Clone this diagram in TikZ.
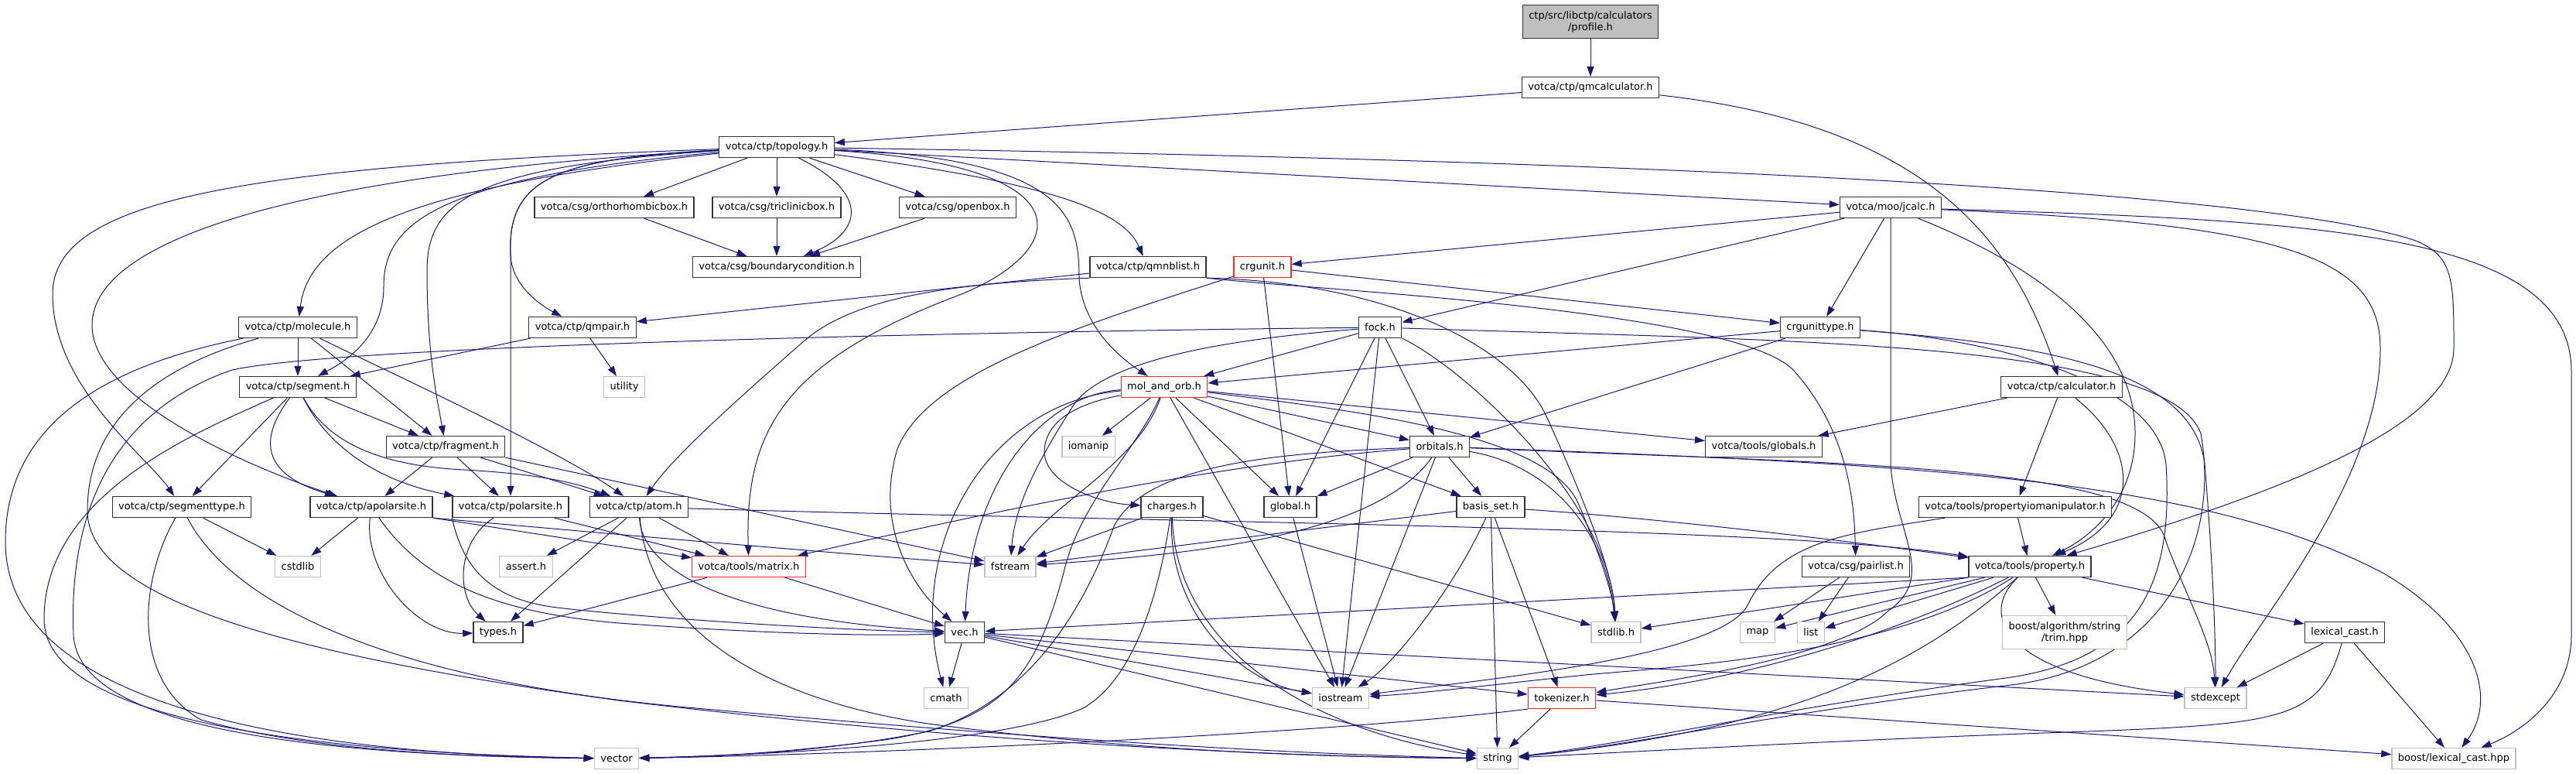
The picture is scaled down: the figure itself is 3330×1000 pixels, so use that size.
\documentclass[tikz,border=0pt]{standalone}
\usepackage{fontspec}
\setmainfont{DejaVu Sans}
\usetikzlibrary{arrows.meta}
\definecolor{depblue}{HTML}{191970}
\definecolor{extgray}{HTML}{BFBFBF}
\pgfdeclarelayer{bg}
\pgfsetlayers{bg,main}

\begin{document}
\begin{tikzpicture}[x=1pt, y=-1pt,
	inc/.style={draw=black!80, line width=1.3pt, fill=white, minimum height=27pt, inner xsep=8pt, inner ysep=0pt, font=\fontsize{13}{15}\selectfont},
	sys/.style={inc, draw=extgray},
	cut/.style={inc, draw=red!85},
	root/.style={inc, fill=extgray, align=center, minimum height=43pt},
	dep/.style={draw=depblue, line width=1pt, -{Triangle[length=13pt, width=9pt]}}]
	\useasboundingbox (0, 0) rectangle (3330, 1000);
	% rows of the graph
	\node [root] (profile) at (2056, 28) {ctp/src/libctp/calculators\\/profile.h};
	\node [inc] (qmcalc) at (2056, 113) {votca/ctp/qmcalculator.h};
	\node [inc] (topology) at (1004, 190) {votca/ctp/topology.h};
	\node [inc] (orthobox) at (794, 268) {votca/csg/orthorhombicbox.h};
	\node [inc] (triclbox) at (1004, 268) {votca/csg/triclinicbox.h};
	\node [inc] (openbox) at (1238, 268) {votca/csg/openbox.h};
	\node [inc] (jcalc) at (2444, 268) {votca/moo/jcalc.h};
	\node [inc] (bcond) at (1004, 345) {votca/csg/boundarycondition.h};
	\node [inc] (qmnblist) at (1484, 345) {votca/ctp/qmnblist.h};
	\node [cut] (crgunit) at (1632, 345) {crgunit.h};
	\node [inc] (molecule) at (385, 423) {votca/ctp/molecule.h};
	\node [inc] (qmpair) at (753, 423) {votca/ctp/qmpair.h};
	\node [inc] (fock) at (1784, 423) {fock.h};
	\node [inc] (crgunittype) at (2353, 423) {crgunittype.h};
	\node [inc] (segment) at (385, 500) {votca/ctp/segment.h};
	\node [sys] (utility) at (807, 500) {utility};
	\node [cut] (molorb) at (1505, 500) {mol\_and\_orb.h};
	\node [inc] (calculator) at (2665, 500) {votca/ctp/calculator.h};
	\node [inc] (fragment) at (576, 577) {votca/ctp/fragment.h};
	\node [sys] (iomanip) at (1407, 577) {iomanip};
	\node [inc] (orbitals) at (1861, 577) {orbitals.h};
	\node [inc] (globals) at (2280, 577) {votca/tools/globals.h};
	\node [inc] (segtype) at (235, 655) {votca/ctp/segmenttype.h};
	\node [inc] (apolar) at (480, 655) {votca/ctp/apolarsite.h};
	\node [inc] (polar) at (660, 655) {votca/ctp/polarsite.h};
	\node [inc] (atom) at (826, 655) {votca/ctp/atom.h};
	\node [inc] (charges) at (1515, 655) {charges.h};
	\node [inc] (global) at (1668, 655) {global.h};
	\node [inc] (basisset) at (1927, 655) {basis\_set.h};
	\node [inc] (propio) at (2605, 655) {votca/tools/propertyiomanipulator.h};
	\node [sys] (cstdlib) at (385, 732) {cstdlib};
	\node [sys] (assert) at (680, 732) {assert.h};
	\node [cut] (matrix) at (968, 732) {votca/tools/matrix.h};
	\node [sys] (fstream) at (1306, 732) {fstream};
	\node [inc] (pairlist) at (2399, 732) {votca/csg/pairlist.h};
	\node [inc] (property) at (2624, 732) {votca/tools/property.h};
	\node [inc] (types) at (644, 817) {types.h};
	\node [inc] (vec) at (1247, 817) {vec.h};
	\node [sys] (stdlib) at (2089, 817) {stdlib.h};
	\node [sys] (map) at (2272, 817) {map};
	\node [sys] (list) at (2341, 817) {list};
	\node [sys, align=center, minimum height=43pt] (trim) at (2669, 817) {boost/algorithm/string\\/trim.hpp};
	\node [inc] (lexcasth) at (3031, 817) {lexical\_cast.h};
	\node [sys] (cmath) at (1223, 902) {cmath};
	\node [sys] (iostream) at (1733, 902) {iostream};
	\node [cut] (tokenizer) at (2019, 902) {tokenizer.h};
	\node [sys] (stdexcept) at (2864, 902) {stdexcept};
	\node [sys] (vector) at (797, 980) {vector};
	\node [sys] (string) at (1936, 980) {string};
	\node [sys] (lexcasthpp) at (3172, 980) {boost/lexical\_cast.hpp};

	\begin{pgfonlayer}{bg}
	% root and calculators
	\draw [dep] (profile) -- (qmcalc);
	\draw [dep] (qmcalc) -- (topology);
	\draw [dep] (qmcalc) .. controls (2480, 160) and (2600, 300) .. (calculator);
	% topology
	\draw [dep] (topology) -- (orthobox);
	\draw [dep] (topology) -- (triclbox);
	\draw [dep] (topology) -- (openbox);
	\draw [dep] (topology) .. controls (1125, 250) and (1115, 300) .. (bcond);
	\draw [dep] (orthobox) -- (bcond);
	\draw [dep] (triclbox) -- (bcond);
	\draw [dep] (openbox) -- (bcond);
	\draw [dep] (topology) .. controls (1390, 240) and (1455, 280) .. (qmnblist);
	\draw [dep] (topology) -- (jcalc);
	\draw [dep] (topology) .. controls (540, 240) and (400, 300) .. (molecule);
	\draw [dep] (topology) .. controls (720, 205) and (655, 230) .. (660, 330) .. controls (662, 370) and (700, 395) .. (qmpair);
	\draw [dep] (topology) .. controls (720, 205) and (655, 230) .. (660, 330) -- (polar);
	\draw [dep] (topology) .. controls (560, 230) and (496, 290) .. (496, 370) .. controls (496, 440) and (440, 470) .. (segment);
	\draw [dep] (topology) .. controls (610, 215) and (552, 260) .. (552, 350) .. controls (552, 460) and (566, 520) .. (fragment);
	\draw [dep] (topology) .. controls (300, 215) and (68, 260) .. (68, 380) .. controls (68, 500) and (190, 590) .. (segtype);
	\draw [dep] (topology) .. controls (380, 225) and (119, 310) .. (119, 420) .. controls (119, 520) and (340, 610) .. (apolar);
	\draw [dep] (topology) .. controls (1420, 215) and (1380, 330) .. (1230, 385) .. controls (1010, 470) and (963, 560) .. (matrix);
	\draw [dep] (topology) .. controls (1380, 205) and (1395, 280) .. (1395, 360) .. controls (1400, 430) and (1460, 470) .. (molorb);
	\draw [dep] (topology) .. controls (2000, 205) and (2900, 240) .. (3120, 310) .. controls (3172, 330) and (3172, 360) .. (3172, 450) .. controls (3172, 560) and (2900, 650) .. (property);
	% molecule, segment, qmpair
	\draw [dep] (molecule) -- (segment);
	\draw [dep] (molecule) -- (fragment);
	\draw [dep] (molecule) .. controls (480, 470) and (720, 580) .. (atom);
	\draw [dep] (molecule) .. controls (150, 470) and (7, 540) .. (7, 700) .. controls (7, 930) and (450, 975) .. (vector);
	\draw [dep] (molecule) .. controls (180, 480) and (113, 560) .. (113, 660) .. controls (113, 780) and (400, 850) .. (800, 905) .. controls (1300, 965) and (1700, 978) .. (string);
	\draw [dep] (segment) -- (fragment);
	\draw [dep] (segment) -- (segtype);
	\draw [dep] (segment) .. controls (340, 560) and (330, 610) .. (apolar);
	\draw [dep] (segment) .. controls (420, 570) and (480, 620) .. (polar);
	\draw [dep] (segment) .. controls (430, 585) and (520, 603) .. (600, 607) .. controls (690, 612) and (740, 622) .. (atom);
	\draw [dep] (segment) .. controls (250, 560) and (57, 640) .. (57, 800) .. controls (57, 930) and (400, 972) .. (vector);
	\draw [dep] (qmpair) -- (segment);
	\draw [dep] (qmpair) -- (utility);
	% qmnblist, crgunit, jcalc
	\draw [dep] (qmnblist) -- (qmpair);
	\draw [dep] (qmnblist.south west) .. controls (1250, 365) and (1110, 380) .. (1040, 440) .. controls (960, 510) and (870, 590) .. (atom);
	\draw [dep] (qmnblist.south east) .. controls (1700, 375) and (2250, 400) .. (2320, 480) .. controls (2390, 560) and (2397, 650) .. (pairlist);
	\draw [dep] (qmnblist.south east) .. controls (1800, 365) and (1960, 450) .. (2000, 540) .. controls (2050, 650) and (2085, 740) .. (stdlib);
	\draw [dep] (crgunit) -- (crgunittype);
	\draw [dep] (crgunit) -- (global);
	\draw [dep] (crgunit) .. controls (1400, 420) and (1200, 480) .. (1160, 580) .. controls (1130, 680) and (1180, 760) .. (vec);
	\draw [dep] (jcalc) -- (crgunit);
	\draw [dep] (jcalc) -- (crgunittype);
	\draw [dep] (jcalc) -- (fock);
	\draw [dep] (jcalc) -- (2444, 600) .. controls (2450, 690) and (2505, 745) .. (2440, 790) .. controls (2380, 850) and (2150, 880) .. (tokenizer);
	\draw [dep] (jcalc) .. controls (2600, 330) and (2760, 420) .. (2760, 560) .. controls (2760, 640) and (2710, 690) .. (property);
	\draw [dep] (jcalc) .. controls (2950, 290) and (3077, 330) .. (3077, 450) .. controls (3077, 620) and (2920, 800) .. (stdexcept);
	\draw [dep] (jcalc) .. controls (3000, 285) and (3324, 300) .. (3324, 480) -- (3324, 820) .. controls (3324, 900) and (3260, 945) .. (lexcasthpp);
	% fock, crgunittype, calculator
	\draw [dep] (fock) -- (molorb);
	\draw [dep] (fock) -- (orbitals);
	\draw [dep] (fock) -- (global);
	\draw [dep] (fock) -- (iostream);
	\draw [dep] (fock) .. controls (1900, 480) and (2080, 650) .. (stdlib);
	\draw [dep] (fock) .. controls (1560, 440) and (1430, 470) .. (1390, 520) .. controls (1345, 590) and (1312, 650) .. (fstream);
	\draw [dep] (fock) .. controls (1300, 428) and (450, 445) .. (300, 478) .. controls (120, 540) and (90, 700) .. (95, 820) .. controls (100, 940) and (400, 976) .. (vector);
	\draw [dep] (fock) .. controls (2300, 440) and (2800, 440) .. (2845, 560) .. controls (2870, 700) and (2800, 860) .. (2600, 885) .. controls (2300, 920) and (2100, 965) .. (string);
	\draw [dep] (crgunittype) -- (molorb);
	\draw [dep] (crgunittype) -- (orbitals);
	\draw [dep] (crgunittype) .. controls (2650, 445) and (2836, 480) .. (2850, 600) .. controls (2860, 720) and (2864, 820) .. (stdexcept);
	\draw [dep] (crgunittype) .. controls (2600, 440) and (2790, 500) .. (2800, 600) .. controls (2810, 760) and (2760, 850) .. (2600, 875) .. controls (2300, 915) and (2100, 962) .. (string);
	\draw [dep] (calculator) -- (globals);
	\draw [dep] (calculator) -- (propio);
	\draw [dep] (calculator) .. controls (2765, 580) and (2770, 670) .. (property);
	% mol_and_orb
	\draw [dep] (molorb) -- (iomanip);
	\draw [dep] (molorb) .. controls (1400, 520) and (1350, 540) .. (1350, 585) .. controls (1352, 625) and (1420, 650) .. (charges);
	\draw [dep] (molorb) -- (global);
	\draw [dep] (molorb) -- (orbitals);
	\draw [dep] (molorb) -- (basisset);
	\draw [dep] (molorb) -- (globals);
	\draw [dep] (molorb) .. controls (1470, 600) and (1360, 650) .. (fstream);
	\draw [dep] (molorb) -- (iostream);
	\draw [dep] (molorb) .. controls (1350, 510) and (1255, 620) .. (vec);
	\draw [dep] (molorb) .. controls (1280, 520) and (1170, 700) .. (cmath);
	\draw [dep] (molorb) .. controls (1470, 580) and (1395, 650) .. (1375, 740) .. controls (1340, 870) and (1300, 930) .. (1150, 955) .. controls (1000, 975) and (900, 978) .. (vector);
	\draw [dep] (molorb) .. controls (1750, 530) and (2000, 560) .. (2040, 650) .. controls (2070, 720) and (2085, 770) .. (stdlib);
	% orbitals
	\draw [dep] (orbitals) -- (global);
	\draw [dep] (orbitals) -- (basisset);
	\draw [dep] (orbitals) .. controls (1780, 690) and (1560, 715) .. (fstream);
	\draw [dep] (orbitals) .. controls (1550, 600) and (1200, 680) .. (matrix);
	\draw [dep] (orbitals) -- (iostream);
	\draw [dep] (orbitals) .. controls (1650, 585) and (1480, 600) .. (1440, 680) .. controls (1400, 790) and (1330, 905) .. (1200, 945) .. controls (1050, 975) and (900, 978) .. (vector);
	\draw [dep] (orbitals) .. controls (2000, 600) and (2075, 680) .. (stdlib);
	\draw [dep] (orbitals) .. controls (2400, 600) and (2780, 600) .. (2800, 700) .. controls (2830, 780) and (2860, 830) .. (stdexcept);
	\draw [dep] (orbitals) .. controls (2500, 600) and (2850, 620) .. (3080, 740) .. controls (3200, 810) and (3230, 900) .. (lexcasthpp);
	% charges, global, basis_set
	\draw [dep] (charges) -- (fstream);
	\draw [dep] (charges) -- (stdlib);
	\draw [dep] (charges) .. controls (1510, 790) and (1600, 880) .. (iostream);
	\draw [dep] (charges) .. controls (1520, 840) and (1700, 945) .. (string);
	\draw [dep] (charges) .. controls (1505, 720) and (1480, 870) .. (1400, 915) .. controls (1300, 960) and (1000, 975) .. (vector);
	\draw [dep] (global) -- (iostream);
	\draw [dep] (basisset) -- (fstream);
	\draw [dep] (basisset) .. controls (1880, 760) and (1800, 860) .. (iostream);
	\draw [dep] (basisset) -- (string);
	\draw [dep] (basisset) -- (tokenizer);
	\draw [dep] (basisset) .. controls (2150, 670) and (2400, 700) .. (property);
	% tools
	\draw [dep] (propio) -- (property);
	\draw [dep] (propio) .. controls (2380, 690) and (2300, 700) .. (2260, 780) .. controls (2230, 850) and (1900, 880) .. (iostream);
	\draw [dep] (pairlist) -- (map);
	\draw [dep] (pairlist) -- (list);
	\draw [dep] (property) -- (map);
	\draw [dep] (property) -- (list);
	\draw [dep] (property) -- (trim);
	\draw [dep] (property) -- (lexcasth);
	\draw [dep] (property) .. controls (2560, 790) and (2580, 870) .. (stdexcept);
	\draw [dep] (property.south west) -- (vec);
	\draw [dep] (property.south west) -- (stdlib);
	\draw [dep] (property) .. controls (2450, 820) and (2250, 880) .. (tokenizer);
	\draw [dep] (property) .. controls (2440, 850) and (2150, 862) .. (2050, 872) .. controls (1950, 882) and (1850, 895) .. (iostream);
	\draw [dep] (property) .. controls (2500, 840) and (2350, 940) .. (string);
	\draw [dep] (lexcasth) -- (stdexcept);
	\draw [dep] (lexcasth) -- (lexcasthpp);
	\draw [dep] (lexcasth) .. controls (3000, 930) and (2950, 935) .. (2700, 945) .. controls (2400, 955) and (2100, 972) .. (string);
	\draw [dep] (tokenizer) -- (string);
	\draw [dep] (tokenizer.south west) .. controls (1700, 950) and (1100, 975) .. (vector);
	\draw [dep] (tokenizer) -- (lexcasthpp);
	\draw [dep] (vec) -- (cmath);
	\draw [dep] (vec) -- (iostream);
	\draw [dep] (vec) -- (string);
	\draw [dep] (vec) -- (tokenizer);
	\draw [dep] (vec) -- (stdexcept);
	\draw [dep] (matrix) -- (types);
	\draw [dep] (matrix) -- (vec);
	% sites and atoms
	\draw [dep] (atom) -- (assert);
	\draw [dep] (atom) -- (types);
	\draw [dep] (atom) -- (matrix);
	\draw [dep] (atom) .. controls (830, 740) and (950, 800) .. (vec);
	\draw [dep] (atom) .. controls (840, 820) and (1000, 905) .. (1200, 935) .. controls (1500, 975) and (1750, 978) .. (string);
	\draw [dep] (atom) .. controls (1500, 675) and (2300, 680) .. (property);
	\draw [dep] (polar) .. controls (590, 700) and (590, 770) .. (types);
	\draw [dep] (polar) -- (matrix);
	\draw [dep] (polar.south west) .. controls (600, 740) and (640, 775) .. (720, 785) .. controls (850, 800) and (1100, 815) .. (vec);
	\draw [dep] (apolar) -- (cstdlib);
	\draw [dep] (apolar) .. controls (470, 740) and (540, 820) .. (types);
	\draw [dep] (apolar) .. controls (540, 740) and (620, 790) .. (800, 805) .. controls (1000, 820) and (1150, 822) .. (vec);
	\draw [dep] (apolar.south east) -- (matrix);
	\draw [dep] (apolar.south east) .. controls (900, 700) and (1150, 720) .. (fstream);
	\draw [dep] (segtype) -- (cstdlib);
	\draw [dep] (segtype) .. controls (180, 750) and (170, 880) .. (260, 930) .. controls (400, 970) and (600, 978) .. (vector);
	\draw [dep] (segtype) .. controls (300, 780) and (500, 880) .. (900, 915) .. controls (1400, 960) and (1700, 975) .. (string);
	\draw [dep] (fragment) -- (apolar);
	\draw [dep] (fragment) -- (polar);
	\draw [dep] (fragment) -- (atom);
	\draw [dep] (fragment.south east) -- (fstream);
	\end{pgfonlayer}
\end{tikzpicture}
\end{document}
